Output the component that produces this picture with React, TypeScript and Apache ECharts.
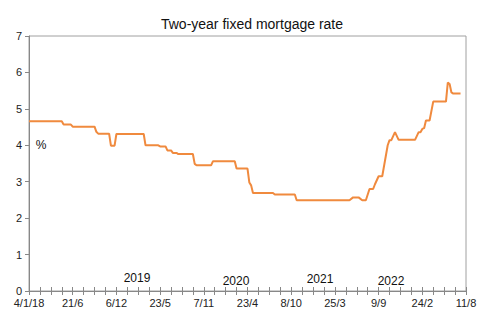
import React, { useEffect, useRef } from "react";
import * as echarts from "echarts";

const title = "Two-year fixed mortgage rate";
const startDate = "2018-01-04";
const endDate = "2022-08-11";
const dates = [
  "2018-01-04", "2018-05-10", "2018-05-17", "2018-06-14", "2018-06-21", "2018-09-13",
  "2018-09-20", "2018-09-27", "2018-11-08", "2018-11-15", "2018-11-29", "2018-12-06",
  "2019-03-21", "2019-03-28", "2019-05-16", "2019-05-23", "2019-06-13", "2019-06-20",
  "2019-07-04", "2019-07-11", "2019-07-25", "2019-08-01", "2019-09-26", "2019-10-03",
  "2019-10-10", "2019-12-05", "2019-12-12", "2020-03-05", "2020-03-12", "2020-04-23",
  "2020-04-30", "2020-05-07", "2020-05-14", "2020-07-30", "2020-08-06", "2020-10-22",
  "2020-10-29", "2021-05-20", "2021-06-03", "2021-06-24", "2021-07-08", "2021-07-22",
  "2021-08-05", "2021-08-19", "2021-08-26", "2021-09-09", "2021-09-23", "2021-10-14",
  "2021-10-21", "2021-10-28", "2021-11-11", "2021-11-25", "2022-01-27", "2022-02-10",
  "2022-02-17", "2022-02-24", "2022-03-03", "2022-03-10", "2022-03-24", "2022-04-07",
  "2022-05-26", "2022-06-02", "2022-06-09", "2022-06-16", "2022-06-23", "2022-07-21",
];
const rates = [
  4.66, 4.66, 4.57, 4.57, 4.51, 4.51,
  4.37, 4.32, 4.32, 3.99, 3.99, 4.31,
  4.31, 4.0, 4.0, 3.97, 3.97, 3.86,
  3.86, 3.79, 3.79, 3.76, 3.76, 3.49,
  3.45, 3.45, 3.56, 3.56, 3.36, 3.36,
  2.98, 2.9, 2.69, 2.69, 2.65, 2.65,
  2.49, 2.49, 2.57, 2.57, 2.49, 2.49,
  2.8, 2.8, 2.93, 3.15, 3.15, 4.0,
  4.14, 4.14, 4.36, 4.15, 4.15, 4.36,
  4.36, 4.45, 4.47, 4.68, 4.68, 5.2,
  5.2, 5.72, 5.68, 5.45, 5.42, 5.42,
];
const yearLabels = ["2019", "2020", "2021", "2022"];
const unitLabel = "%";

const DAY = 86400000;
const toDays = (s: string) =>
  Math.round((Date.parse(s + "T00:00:00Z") - Date.parse(startDate + "T00:00:00Z")) / DAY);

export default function App() {
  const ref = useRef<HTMLDivElement>(null);
  useEffect(() => {
    if (!ref.current) return;
    const chart = echarts.init(ref.current, undefined, { renderer: "svg" });
    const maxDays = toDays(endDate);
    const labelStep = 168;
    const tickStep = 42;
    const fmt = (v: number) => {
      if (Math.round(v) % labelStep !== 0) return "";
      const d = new Date(Date.parse(startDate + "T00:00:00Z") + v * DAY);
      const s = d.getUTCDate() + "/" + (d.getUTCMonth() + 1);
      if (v === 0) return s + "/" + String(d.getUTCFullYear()).slice(2);
      return s;
    };
    const font = "'Liberation Sans', Arial, sans-serif";
    const yearPos = [
      [137, 278],
      [236, 281],
      [320, 279],
      [391, 281],
    ];
    chart.setOption({
      animation: false,
      backgroundColor: "#ffffff",
      title: {
        text: title,
        left: 247,
        top: 12,
        textAlign: "center",
        textStyle: { fontFamily: font, fontSize: 14, fontWeight: "normal", color: "#111" },
      },
      grid: {
        left: 29,
        right: 20,
        top: 36,
        bottom: 31,
        show: true,
        borderColor: "#a0a0a0",
        borderWidth: 1,
      },
      xAxis: [
        {
          type: "value",
          min: 0,
          max: maxDays,
          interval: tickStep,
          position: "bottom",
          splitLine: { show: false },
          axisLine: { show: true, lineStyle: { color: "#888", width: 1 } },
          axisTick: { show: true, length: 4, lineStyle: { color: "#888" } },
          axisLabel: {
            formatter: fmt,
            fontFamily: font,
            fontSize: 11,
            color: "#222",
            margin: 6,
            showMinLabel: true,
            showMaxLabel: true,
          },
        },
        {
          type: "value",
          min: 0,
          max: maxDays,
          interval: tickStep,
          position: "bottom",
          splitLine: { show: false },
          axisLine: { show: false },
          axisTick: { show: true, inside: true, length: 4, lineStyle: { color: "#888" } },
          axisLabel: { show: false },
        },
      ],
      yAxis: {
        type: "value",
        min: 0,
        max: 7,
        interval: 1,
        splitLine: { show: false },
        axisLine: { show: true, lineStyle: { color: "#888", width: 1 } },
        axisTick: { show: true, length: 4, lineStyle: { color: "#888" } },
        axisLabel: { fontFamily: font, fontSize: 11, color: "#222", margin: 7 },
      },
      graphic: [
        ...yearLabels.map((t, i) => ({
          type: "text",
          x: yearPos[i][0],
          y: yearPos[i][1],
          style: {
            text: t,
            fontFamily: font,
            fontSize: 12,
            fill: "#111",
            textAlign: "center",
            textVerticalAlign: "middle",
          },
        })),
        {
          type: "text",
          x: 41,
          y: 145,
          style: {
            text: unitLabel,
            fontFamily: font,
            fontSize: 12,
            fill: "#111",
            textAlign: "center",
            textVerticalAlign: "middle",
          },
        },
      ],
      series: [
        {
          type: "line",
          xAxisIndex: 0,
          showSymbol: false,
          data: dates.map((d, i) => [toDays(d), rates[i]]),
          lineStyle: { color: "#F08A3E", width: 2 },
          itemStyle: { color: "#F08A3E" },
        },
      ],
    });
    return () => chart.dispose();
  }, []);
  return (
    <div
      ref={ref}
      style={{ position: "fixed", left: 0, top: 0, width: 486, height: 322 }}
    />
  );
}
